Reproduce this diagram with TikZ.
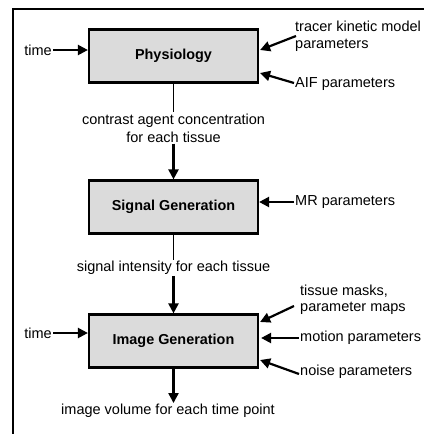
\documentclass[tikz,border=0pt]{standalone}
\usepackage{fontspec}
\setmainfont{Liberation Sans}
\usetikzlibrary{arrows.meta}
\begin{document}
\begin{tikzpicture}[x=1pt,y=-1pt,
  stage/.style={draw,line width=2.2pt,fill=black!14,minimum width=169pt,minimum height=53pt,inner sep=0pt,font=\bfseries\fontsize{14.4}{17}\selectfont},
  lbl/.style={inner sep=1pt,font=\fontsize{14.5}{17}\selectfont},
  arr/.style={line width=2.2pt,-{Triangle[length=10pt,width=10pt]}},
  thin/.style={line width=1.1pt}]
\useasboundingbox (0,0) rectangle (424,434);
% frame
\draw[line width=1.1pt] (13,434) -- (13,9) -- (424,9);

% stages
\node[stage] (phys) at (173.5,56) {Physiology};
\node[stage] (sig) at (173.5,207) {Signal Generation};
\node[stage] (img) at (173.5,341) {Image Generation};

% physiology inputs
\node[lbl,anchor=east] (t1) at (53,50) {time};
\draw[arr] (t1.east) -- (phys.west |- t1.east);
\node[lbl,anchor=west,align=left] (tk) at (294,36.5) {tracer kinetic model\\parameters};
\coordinate (tkend) at (296,36);
\draw[arr] (tkend) -- ([shift={(1,-6)}]phys.east);
\node[lbl,anchor=west] (aif) at (294,84) {AIF parameters};
\draw[arr] ([yshift=1pt]aif.west) -- ([shift={(1,17)}]phys.east);

% physiology output
\node[lbl,align=center,font=\fontsize{14.5}{18}\selectfont] (conc) at (173.5,128) {contrast agent concentration\\for each tissue};
\draw[thin] (phys.south) -- (conc.north);
\draw[arr] (conc.south) -- (sig.north);

% signal generation
\node[lbl,anchor=west] (mr) at (294,202) {MR parameters};
\draw[arr] (mr.west) -- (sig.east |- mr.west);
\node[lbl] (si) at (173.5,268) {signal intensity for each tissue};
\draw[thin] (sig.south) -- (si.north);
\draw[arr] (si.south) -- (img.north);

% image generation inputs
\node[lbl,anchor=east] (t2) at (53,333) {time};
\draw[arr] (t2.east) -- (img.west |- t2.east);
\node[lbl,anchor=west,align=left,font=\fontsize{14.5}{16}\selectfont] (tm) at (299,300) {tissue masks,\\parameter maps};
\coordinate (tmend) at (294,306);
\draw[arr] (tmend) -- ([shift={(1,-19)}]img.east);
\node[lbl,anchor=west] (mo) at (299,338) {motion parameters};
\draw[arr] (mo.west) -- ([xshift=2pt]img.east |- mo.west);
\node[lbl,anchor=west] (no) at (299,372) {noise parameters};
\draw[arr] ([yshift=-2pt]no.west) -- ([shift={(1,19)}]img.east);

% output
\node[lbl] (vol) at (168,411) {image volume for each time point};
\draw[arr] (img.south) -- (img.south |- vol.north);
\end{tikzpicture}
\end{document}
